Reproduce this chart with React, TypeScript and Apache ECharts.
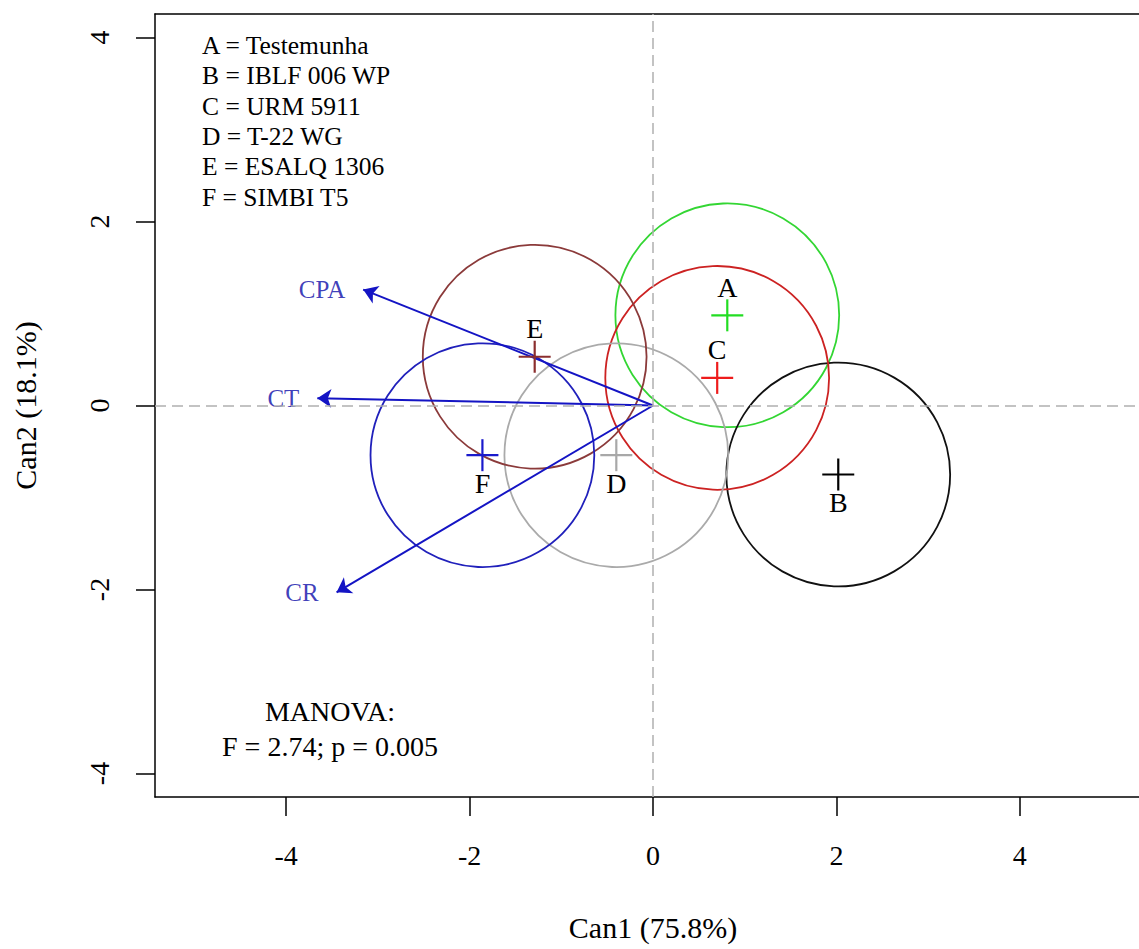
import React, { useEffect, useRef } from "react";
import * as echarts from "echarts";

const groups = ["A", "B", "C", "D", "E", "F"];
const treatments = ["Testemunha", "IBLF 006 WP", "URM 5911", "T-22 WG", "ESALQ 1306", "SIMBI T5"];
const can1 = [0.81, 2.02, 0.7, -0.4, -1.29, -1.86];
const can2 = [0.98, -0.75, 0.3, -0.54, 0.53, -0.54];
const radii = [1.22, 1.22, 1.22, 1.22, 1.22, 1.22];
const labelAbove = [true, false, true, false, true, false];
const crossColors = ["#22dd22", "#000000", "#ee1c1c", "#a8a8a8", "#8b2e2e", "#1a1acc"];
const circleColors = ["#33d633", "#111111", "#cc2222", "#aaaaaa", "#8b3a3a", "#2020bb"];

const variables = ["CPA", "CT", "CR"];
const arrowX = [-3.16, -3.66, -3.45];
const arrowY = [1.26, 0.08, -2.03];

const xTicks = [-4, -2, 0, 2, 4];
const yTicks = [-4, -2, 0, 2, 4];

const manovaText = ["MANOVA:", "F = 2.74; p = 0.005"];

const FONT = "Liberation Serif";
const BLUE = "#1414c4";
const LABEL_BLUE = "#0c0ca8";

export default function App() {
  const ref = useRef<HTMLDivElement>(null);
  useEffect(() => {
    if (!ref.current) return;
    const chart = echarts.init(ref.current, null, { renderer: "svg" });
    const option: any = {
      animation: false,
      textStyle: { fontFamily: FONT },
      grid: { left: 155, top: 14, width: 996, height: 783, outerBoundsMode: "none", containLabel: false },
      xAxis: [
        {
          type: "value",
          min: -5.43,
          max: 5.43,
          position: "bottom",
          name: "Can1 (75.8%)",
          nameLocation: "middle",
          nameGap: 115,
          nameTextStyle: { fontFamily: FONT, fontSize: 30, color: "#000" },
          axisLine: { show: true, onZero: false, lineStyle: { color: "#000", width: 1.5 } },
          axisTick: { show: true, length: 19, customValues: xTicks, lineStyle: { color: "#000", width: 1.5 } },
          axisLabel: { customValues: xTicks, margin: 44, fontFamily: FONT, fontSize: 28, color: "#000" },
          splitLine: { show: false },
        },
        {
          type: "value",
          min: -5.43,
          max: 5.43,
          position: "top",
          axisLine: { show: true, onZero: false, lineStyle: { color: "#000", width: 1.5 } },
          axisTick: { show: false },
          axisLabel: { show: false },
          splitLine: { show: false },
        },
      ],
      yAxis: {
        type: "value",
        min: -4.255,
        max: 4.255,
        name: "Can2 (18.1%)",
        nameLocation: "middle",
        nameGap: 115,
        nameTextStyle: { fontFamily: FONT, fontSize: 30, color: "#000" },
        axisLine: { show: true, onZero: false, lineStyle: { color: "#000", width: 1.5 } },
        axisTick: { show: true, length: 19, customValues: yTicks, lineStyle: { color: "#000", width: 1.5 } },
        axisLabel: { customValues: yTicks, rotate: 90, margin: 42, fontFamily: FONT, fontSize: 28, color: "#000" },
        splitLine: { show: false },
      },
      series: [
        {
          type: "custom",
          name: "circles",
          data: groups.map((g, i) => [can1[i], can2[i], radii[i]]),
          renderItem: (params: any, api: any) => {
            const c = api.coord([api.value(0), api.value(1)]);
            const s = api.size([api.value(2), api.value(2)]);
            return {
              type: "circle",
              shape: { cx: c[0], cy: c[1], r: s[0] },
              style: { fill: "none", stroke: circleColors[params.dataIndex], lineWidth: 1.8 },
            };
          },
          z: 2,
        },
        {
          type: "lines",
          coordinateSystem: "cartesian2d",
          data: variables.map((v, i) => ({ coords: [[0, 0], [arrowX[i], arrowY[i]]] })),
          symbol: ["none", "arrow"],
          symbolSize: 14,
          lineStyle: { color: BLUE, width: 2, opacity: 1 },
          z: 3,
        },
        {
          type: "scatter",
          data: variables.map((v, i) => ({ value: [arrowX[i], arrowY[i]], name: v })),
          symbolSize: 0,
          label: {
            show: true,
            position: "left",
            distance: 18,
            formatter: (p: any) => p.name,
            fontFamily: FONT,
            fontSize: 25,
            color: LABEL_BLUE,
          },
          markLine: {
            silent: true,
            symbol: ["none", "none"],
            label: { show: false },
            lineStyle: { color: "#b0b0b0", type: [11, 6], width: 1.5 },
            data: [{ xAxis: 0 }, { yAxis: 0 }],
          },
          z: 1,
        },
        {
          type: "custom",
          name: "centers",
          data: groups.map((g, i) => [can1[i], can2[i]]),
          renderItem: (params: any, api: any) => {
            const i = params.dataIndex;
            const c = api.coord([api.value(0), api.value(1)]);
            const h = 16;
            const col = crossColors[i];
            return {
              type: "group",
              children: [
                { type: "line", shape: { x1: c[0] - h, y1: c[1], x2: c[0] + h, y2: c[1] }, style: { stroke: col, lineWidth: 2.2 } },
                { type: "line", shape: { x1: c[0], y1: c[1] - h, x2: c[0], y2: c[1] + h }, style: { stroke: col, lineWidth: 2.2 } },
                {
                  type: "text",
                  x: c[0],
                  y: c[1] + (labelAbove[i] ? -28 : 28),
                  style: {
                    text: groups[i],
                    fontFamily: FONT,
                    fontSize: 28,
                    fill: "#000",
                    align: "center",
                    verticalAlign: "middle",
                  },
                },
              ],
            };
          },
          z: 4,
        },
      ],
      graphic: [
        {
          type: "text",
          left: 202,
          top: 30,
          style: {
            text: groups.map((g, i) => `${g} = ${treatments[i]}`).join("\n"),
            fontFamily: FONT,
            fontSize: 25.5,
            lineHeight: 30.4,
            fill: "#000",
          },
        },
        {
          type: "text",
          x: 330,
          y: 694,
          style: {
            text: manovaText.join("\n"),
            fontFamily: FONT,
            fontSize: 28,
            lineHeight: 35,
            fill: "#000",
            align: "center",
          },
        },
      ],
    };
    chart.setOption(option);
    return () => chart.dispose();
  }, []);
  return (
    <div
      ref={ref}
      style={{ position: "fixed", left: 0, top: 0, width: 1139, height: 949, background: "#fff" }}
    />
  );
}
